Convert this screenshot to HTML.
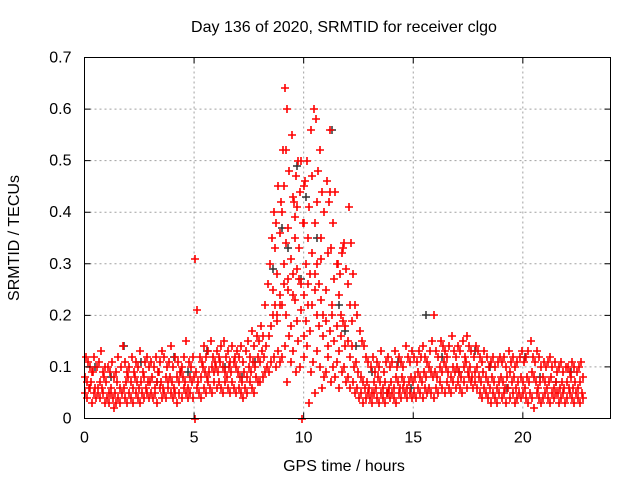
<!DOCTYPE html>
<html><head><meta charset="utf-8"><style>
body{margin:0;background:#fff}
svg text{font-family:"Liberation Sans",sans-serif;font-size:16px;fill:#000}
</style></head><body>
<svg id="chart" width="640" height="480" viewBox="0 0 640 480" xmlns="http://www.w3.org/2000/svg">
<g id="grid"></g>
<g id="black"></g>
<g id="red"></g>
<rect x="84.5" y="57.5" width="526" height="361" fill="none" stroke="#000"/>
<g id="ticks"></g>
<text x="344" y="32" text-anchor="middle">Day 136 of 2020, SRMTID for receiver clgo</text>
<text x="344" y="471" text-anchor="middle">GPS time / hours</text>
<text transform="translate(19,238) rotate(-90)" text-anchor="middle">SRMTID / TECUs</text>
</svg>
<script>
const xTicks=[0,5,10,15,20];
const yTicks=[0,0.1,0.2,0.3,0.4,0.5,0.6,0.7];
const yTickLabels=["0","0.1","0.2","0.3","0.4","0.5","0.6","0.7"];
const serA=[.08,.07,.06,.07,.09,.06,.05,.07,.06,.08,.07,.05,.06,.04,.05,.07,.06,.05,.06,.07,.08,.07,.06,.08,.07,.06,.07,.08,.06,.07,.07,.08,.06,.07,.09,.07,.06,.08,.07,.08,.07,.06,.08,.07,.09,.08,.07,.06,.08,.07,.08,.09,.07,.08,.10,.09,.08,.09,.10,.09,.10,.09,.11,.10,.09,.08,.10,.09,.11,.10,.09,.08,.07,.09,.08,.10,.09,.11,.10,.12,.11,.13,.12,.14,.16,.18,.20,.22,.19,.24,.22,.26,.20,.25,.18,.28,.23,.19,.27,.21,.24,.19,.26,.17,.22,.28,.20,.18,.23,.16,.19,.14,.17,.20,.15,.18,.13,.16,.19,.14,.15,.12,.14,.10,.11,.09,.08,.07,.06,.07,.06,.05,.07,.06,.08,.07,.06,.07,.05,.06,.07,.06,.08,.07,.06,.08,.07,.06,.07,.08,.07,.08,.09,.08,.07,.09,.08,.10,.09,.08,.09,.08,.10,.09,.11,.10,.09,.08,.10,.09,.10,.09,.08,.10,.11,.09,.10,.08,.09,.10,.08,.07,.09,.08,.07,.06,.08,.07,.06,.07,.08,.07,.06,.08,.09,.07,.08,.06,.07,.08,.07,.06,.08,.07,.09,.08,.07,.06,.07,.08,.07,.06,.07,.08,.06,.07,.05,.06,.07,.06,.07,.06,.08,.06,.07,.06,.07,.05];
const serB=[.12,.11,.10,.09,.12,.10,.11,.13,.09,.10,.10,.09,.11,.08,.09,.12,.10,.14,.11,.09,.10,.12,.09,.11,.10,.13,.09,.11,.12,.10,.11,.10,.12,.09,.11,.13,.12,.10,.11,.14,.10,.12,.11,.09,.10,.12,.15,.11,.10,.12,.31,.21,.12,.11,.14,.12,.13,.15,.12,.11,.13,.12,.14,.15,.12,.13,.11,.14,.12,.13,.12,.14,.11,.13,.15,.12,.17,.14,.16,.15,.18,.16,.22,.26,.30,.35,.40,.38,.45,.42,.52,.64,.60,.48,.55,.42,.47,.50,.44,.38,.46,.50,.41,.56,.60,.58,.48,.52,.44,.40,.46,.42,.33,.38,.44,.30,.28,.32,.34,.29,.41,.34,.28,.22,.20,.17,.15,.14,.12,.11,.10,.12,.09,.11,.10,.13,.09,.11,.12,.10,.11,.13,.10,.12,.11,.10,.14,.12,.11,.13,.12,.11,.13,.12,.14,.12,.11,.13,.15,.20,.13,.12,.15,.14,.13,.12,.14,.16,.13,.12,.14,.13,.15,.12,.16,.14,.13,.12,.14,.13,.12,.11,.13,.12,.10,.11,.12,.10,.11,.12,.11,.12,.10,.13,.11,.12,.10,.11,.12,.13,.11,.12,.13,.15,.12,.11,.13,.12,.10,.11,.10,.11,.12,.10,.11,.09,.10,.11,.09,.10,.10,.09,.11,.10,.09,.10,.11,.08];
const serC=[.05,.04,.06,.03,.05,.04,.06,.04,.05,.03,.04,.03,.05,.02,.03,.04,.03,.05,.04,.03,.05,.04,.03,.05,.04,.03,.05,.04,.05,.04,.05,.04,.05,.03,.06,.04,.05,.04,.06,.05,.04,.05,.03,.05,.04,.06,.05,.04,.05,.04,.00,.06,.05,.04,.06,.05,.07,.06,.05,.07,.06,.07,.06,.05,.07,.06,.05,.07,.06,.05,.06,.05,.04,.06,.05,.07,.06,.05,.08,.07,.07,.08,.09,.10,.09,.11,.12,.10,.13,.11,.12,.14,.07,.16,.11,.13,.09,.15,.10,.00,.12,.14,.03,.09,.11,.05,.13,.10,.06,.08,.09,.12,.07,.10,.08,.11,.06,.09,.10,.07,.08,.06,.07,.05,.06,.04,.05,.03,.04,.05,.04,.03,.05,.04,.03,.05,.04,.03,.05,.04,.05,.04,.03,.05,.04,.06,.05,.04,.05,.04,.05,.04,.06,.05,.04,.06,.05,.06,.05,.04,.06,.05,.07,.06,.05,.07,.06,.05,.07,.06,.07,.06,.05,.07,.06,.08,.07,.06,.07,.06,.05,.04,.06,.05,.04,.03,.05,.04,.03,.05,.04,.05,.03,.06,.04,.05,.03,.04,.05,.04,.05,.04,.03,.05,.04,.02,.05,.04,.03,.04,.05,.04,.03,.05,.04,.05,.03,.04,.05,.03,.04,.05,.04,.03,.05,.04,.03,.04];
const peakT=[8.6,8.7,8.8,8.9,8.9,9.0,9.1,9.1,9.2,9.3,9.3,9.4,9.5,9.5,9.6,9.7,9.7,9.8,9.9,9.9,10.0,10.0,10.1,10.2,10.2,10.3,10.4,10.5,10.5,10.6,10.6,10.7,10.8,10.9,11.0,11.1,11.2,11.3,11.4,11.5,11.6,11.7,11.8,11.9,12.0,12.1,12.2,9.2,9.6,10.4,10.8,11.2,8.8,9.4,10.0];
const peakV=[.25,.33,.28,.36,.22,.40,.30,.45,.34,.27,.37,.31,.43,.24,.35,.29,.41,.33,.50,.26,.38,.45,.30,.35,.22,.28,.32,.38,.25,.42,.30,.26,.35,.20,.25,.32,.44,.22,.27,.30,.24,.20,.33,.18,.26,.22,.19,.52,.39,.47,.31,.56,.20,.18,.16];
const blackT=[0.5,1.2,1.8,2.6,3.3,4.1,4.7,5.6,6.4,7.2,7.8,8.6,9.0,9.3,9.7,9.9,10.1,10.6,11.3,11.6,11.9,12.4,13.1,13.8,14.3,14.9,15.6,16.3,17.1,17.8,18.5,19.3,20.1,20.8,21.5,22.2];
const blackV=[.10,.08,.14,.11,.07,.12,.09,.13,.10,.08,.11,.29,.37,.33,.49,.27,.43,.35,.56,.22,.17,.14,.09,.05,.11,.06,.20,.12,.09,.13,.10,.06,.12,.08,.07,.09];

const X0=84.5,X1=610.5,Y0=418.5,Y1=57.5;
const xs=h=>X0+h/24*(X1-X0);
const ys=v=>Y0-v/0.7*(Y0-Y1);
const NS="http://www.w3.org/2000/svg";
const grid=document.getElementById('grid'),ticks=document.getElementById('ticks');
function mk(tag,attrs,parent){const e=document.createElementNS(NS,tag);for(const k in attrs)e.setAttribute(k,attrs[k]);parent.appendChild(e);return e;}
yTicks.forEach((v,i)=>{
  const y=ys(v);
  if(i>0&&i<yTicks.length-1){const g=mk('line',{x1:X0,x2:X1,y1:y,y2:y,stroke:'#a0a0a0','stroke-dasharray':'2,3'},grid);
  
  }
  const t=mk('path',{d:`M${X0} ${y}h6M${X1} ${y}h-6`,stroke:'#000'},ticks);
  
  
  const l=mk('text',{x:X0-13,y:y+5,'text-anchor':'end'},ticks);l.textContent=yTickLabels[i];
  
  
});
xTicks.forEach(h=>{
  const x=xs(h);
  if(h>0){const g=mk('line',{x1:x,x2:x,y1:Y0,y2:Y1,stroke:'#a0a0a0','stroke-dasharray':'2,3'},grid);
  
  }
  const t=mk('path',{d:`M${x} ${Y0}v-6M${x} ${Y1}v6`,stroke:'#000'},ticks);
  
  
  const l=mk('text',{x:x,y:Y0+24,'text-anchor':'middle'},ticks);l.textContent=String(h);
  
  
});
function plus(t,v){const x=Math.round(xs(t)),y=Math.round(ys(v));return `M${x-4} ${y}h8M${x} ${y-4}v8`;}
let bd='';blackT.forEach((t,i)=>bd+=plus(t,blackV[i]));
const bp=mk('path',{d:bd,stroke:'#303030','stroke-width':1.5,fill:'none'},document.getElementById('black'));


let rd='';
serA.forEach((v,i)=>{const t=i*0.1;rd+=plus(t,v)+plus(t+0.05,serB[i])+plus(t+0.03,serC[i]);});
peakT.forEach((t,i)=>rd+=plus(t,peakV[i]));
const rp=mk('path',{d:rd,stroke:'#ff0000','stroke-width':1.6,fill:'none'},document.getElementById('red'));


</script>
</body></html>
